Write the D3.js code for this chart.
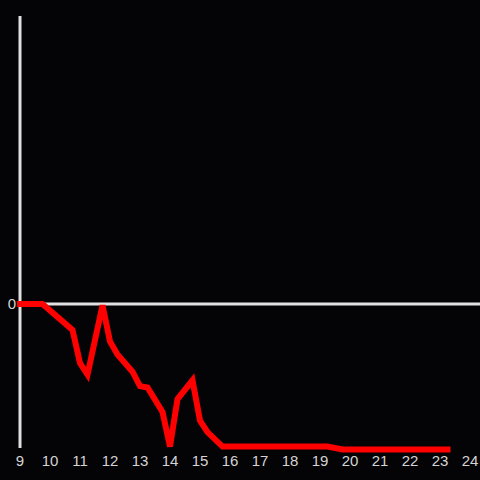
<!DOCTYPE html>
<html>
<head>
<meta charset="utf-8">
<script src="https://cdn.jsdelivr.net/npm/d3@7"></script>
<style>
  body { margin: 0; background: #040306; }
</style>
</head>
<body>
<div class="chart"></div>
<script>
// hours (x) and values (y)
let hours = [9, 9.75, 10.75, 11, 11.25, 11.75, 12, 12.25, 12.75, 13, 13.25, 13.75,
    14, 14.25, 14.75, 15, 15.25, 15.75, 19.25, 19.75, 23.25];
let values = [0, 0, -0.18, -0.41, -0.49, -0.01, -0.26, -0.35, -0.47, -0.57, -0.58, -0.75,
    -0.99, -0.66, -0.53, -0.81, -0.89, -0.99, -0.99, -1.01, -1.01];
let xTicks = [9, 10, 11, 12, 13, 14, 15, 16, 17, 18, 19, 20, 21, 22, 23, 24];
let yTicks = [0];

let width = 480, height = 480;

let svg = d3.select(".chart")
    .append("svg")
    .attr("width", width)
    .attr("height", height)
    .style("background", "#040306");

let x = d3.scaleLinear().domain([9, 24]).range([20, 470]);
let y = d3.scaleLinear().domain([-1, 2]).range([448, 16]);

// x tick labels
svg.selectAll(".xlab")
    .data(xTicks)
    .enter()
    .append("text")
    .attr("x", d => x(d))
    .attr("y", 466)
    .attr("text-anchor", "middle")
    .attr("fill", "#d4d4d4")
    .attr("font-family", "Liberation Sans, Arial, sans-serif")
    .attr("font-size", 15)
    .text(d => d);

// y tick labels
svg.selectAll(".ylab")
    .data(yTicks)
    .enter()
    .append("text")
    .attr("x", 16)
    .attr("y", d => y(d))
    .attr("dy", "0.35em")
    .attr("text-anchor", "end")
    .attr("fill", "#d4d4d4")
    .attr("font-family", "Liberation Sans, Arial, sans-serif")
    .attr("font-size", 15)
    .text(d => d);

// zero line
svg.append("line")
    .attr("x1", x(9)).attr("x2", width)
    .attr("y1", y(0)).attr("y2", y(0))
    .attr("stroke", "#e0e0e0")
    .attr("stroke-width", 3);

// y axis line
svg.append("line")
    .attr("x1", x(9)).attr("x2", x(9))
    .attr("y1", y(2)).attr("y2", y(-1))
    .attr("stroke", "#e0e0e0")
    .attr("stroke-width", 3);

let line = d3.line()
    .x(d => x(d[0]))
    .y(d => y(d[1]));

svg.append("path")
    .datum(hours.map((h, i) => [h, values[i]]))
    .attr("d", line)
    .attr("fill", "none")
    .attr("stroke", "#ff0000")
    .attr("stroke-width", 6)
    .attr("stroke-linecap", "square");
</script>
</body>
</html>
